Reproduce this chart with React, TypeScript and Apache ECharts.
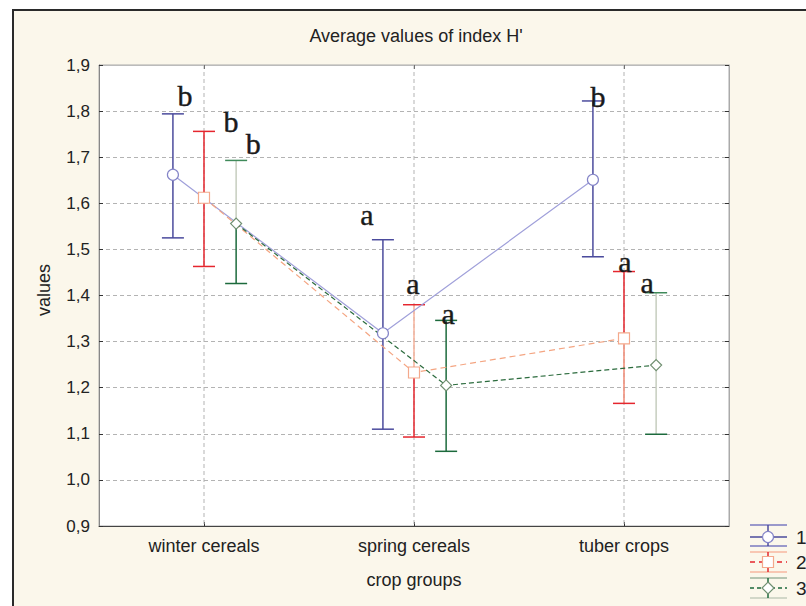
import React, { useEffect, useRef } from "react";
import * as echarts from "echarts";

// ---------- data ----------
const categories = ["winter cereals", "spring cereals", "tuber crops"];
const seriesNames = ["1", "2", "3"];

const means1 = [1.662, 1.318, 1.651];
const low1 = [1.525, 1.11, 1.484];
const high1 = [1.794, 1.521, 1.822];

const means2 = [1.612, 1.233, 1.307];
const low2 = [1.463, 1.093, 1.166];
const high2 = [1.756, 1.38, 1.452];

const means3 = [1.556, 1.205, 1.249];
const low3 = [1.426, 1.062, 1.099];
const high3 = [1.693, 1.346, 1.406];

const letters1 = ["b", "a", "b"];
const letters2 = ["b", "a", "a"];
const letters3 = ["b", "a", "a"];

const yMin = 0.9;
const yMax = 1.9;
const yStep = 0.1;

// ---------- styles / layout ----------
const seriesOffsets = [-0.148, 0, 0.153];

const B = "#4b4b9d";
const R = "#e5262e";
const RL = "#f6b29b";
const RS = "#f08a74";
const G = "#1c6a3c";
const GL = "#c6cdbf";
const GM = "#3f8a5a";

// [upper segment, lower segment, upper cap, lower cap]
const barColors = [
  [[B, B, B, B], [B, B, B, B], [B, B, B, B]],
  [[R, R, R, R], [RL, R, R, R], [R, RS, R, R]],
  [[GL, G, GM, G], [G, G, G, G], [GL, GL, GM, G]],
];

const letterOffsets = [
  [[12, -18], [-16, -25], [5, -4]],
  [[27, -10], [-1, -21], [1, -10]],
  [[17, -17], [2, -7], [-9, -10]],
];

const lineColors = ["#a0a0da", "#f4a582", "#2b6b3d"];
const lineTypes: any[] = ["solid", [6, 4], [5, 3]];
const markerColors = ["#8585c8", "#f4a98c", "#6f8f70"];
const markerShapes = ["circle", "rect", "diamond"];

const FONT = "Liberation Sans, Arial, sans-serif";
const SERIF = "Liberation Serif, Times New Roman, serif";

export default function App() {
  const ref = useRef<HTMLDivElement>(null);

  useEffect(() => {
    document.body.style.margin = "0";
    if (!ref.current) return;
    const chart = echarts.init(ref.current, null, { renderer: "svg" });

    const groups = [
      { means: means1, low: low1, high: high1, letters: letters1 },
      { means: means2, low: low2, high: high2, letters: letters2 },
      { means: means3, low: low3, high: high3, letters: letters3 },
    ];

    const series: any[] = [];

    // vertical grid lines at category centres
    series.push({
      type: "custom",
      xAxisIndex: 1,
      yAxisIndex: 0,
      silent: true,
      z: 1,
      clip: false,
      data: categories.map((_, i) => [i]),
      encode: { x: 0 },
      renderItem: (params: any, api: any) => {
        const x = api.value(0);
        const p1 = api.coord([x, yMax]);
        const p2 = api.coord([x, yMin]);
        return {
          type: "line",
          shape: { x1: p1[0], y1: p1[1], x2: p2[0], y2: p2[1] },
          style: { stroke: "#b3b3b3", lineWidth: 1, lineDash: [4, 3] },
        };
      },
    });

    groups.forEach((g, s) => {
      const off = seriesOffsets[s];
      series.push({
        type: "custom",
        name: seriesNames[s],
        xAxisIndex: 1,
        yAxisIndex: 0,
        z: 3,
        clip: false,
        silent: true,
        data: g.means.map((m, i) => [i + off, g.low[i], g.high[i], m]),
        encode: { x: 0, y: [1, 2] },
        renderItem: (params: any, api: any) => {
          const i = params.dataIndex;
          const x = api.value(0);
          const pHi = api.coord([x, api.value(2)]);
          const pLo = api.coord([x, api.value(1)]);
          const pM = api.coord([x, api.value(3)]);
          const c = barColors[s][i];
          const hw = 11;
          const lo = letterOffsets[s][i];
          return {
            type: "group",
            children: [
              {
                type: "line",
                shape: { x1: pHi[0], y1: pHi[1], x2: pM[0], y2: pM[1] },
                style: { stroke: c[0], lineWidth: 1.5 },
              },
              {
                type: "line",
                shape: { x1: pM[0], y1: pM[1], x2: pLo[0], y2: pLo[1] },
                style: { stroke: c[1], lineWidth: 1.5 },
              },
              {
                type: "line",
                shape: { x1: pHi[0] - hw, y1: pHi[1], x2: pHi[0] + hw, y2: pHi[1] },
                style: { stroke: c[2], lineWidth: 1.5 },
              },
              {
                type: "line",
                shape: { x1: pLo[0] - hw, y1: pLo[1], x2: pLo[0] + hw, y2: pLo[1] },
                style: { stroke: c[3], lineWidth: 1.5 },
              },
              {
                type: "text",
                x: pHi[0] + lo[0],
                y: pHi[1] + lo[1],
                style: {
                  text: g.letters[i],
                  fontSize: 30,
                  fontFamily: SERIF,
                  fill: "#1a1a1a",
                  stroke: "#1a1a1a",
                  lineWidth: 0.4,
                  align: "center",
                  verticalAlign: "middle",
                },
              },
            ],
          };
        },
      });
    });

    groups.forEach((g, s) => {
      const off = seriesOffsets[s];
      series.push({
        type: "line",
        name: seriesNames[s],
        xAxisIndex: 1,
        yAxisIndex: 0,
        z: 5,
        silent: true,
        data: g.means.map((m, i) => [i + off, m]),
        symbol: markerShapes[s],
        symbolSize: 11,
        showAllSymbol: true,
        itemStyle: { color: "#ffffff", borderColor: markerColors[s], borderWidth: 1.2 },
        lineStyle: { color: lineColors[s], width: 1.2, type: lineTypes[s] },
      });
    });

    // legend graphics
    const legendY = [537, 562, 588];
    const legendTop = [-12, -10, -10];
    const legendBottom = [9, 10, 10];
    const legendCapColors = [
      ["#7a7ac0", "#7a7ac0"],
      ["#f7b7a0", "#f7b7a0"],
      ["#9fb59f", "#c4ccbc"],
    ];
    const legendBarColors = [B, R, G];
    const legendMid = [B, R, G];
    const legendMidDash: any[] = [null, [5, 4], [4, 3]];
    const lx1 = 750;
    const lx2 = 787;
    const lcx = 768;
    const legendChildren: any[] = [];
    legendY.forEach((cy, k) => {
      legendChildren.push(
        {
          type: "line",
          shape: { x1: lx1, y1: cy + legendTop[k], x2: lx2, y2: cy + legendTop[k] },
          style: { stroke: legendCapColors[k][0], lineWidth: 1.3 },
        },
        {
          type: "line",
          shape: { x1: lx1, y1: cy + legendBottom[k], x2: lx2, y2: cy + legendBottom[k] },
          style: { stroke: legendCapColors[k][1], lineWidth: 1.3 },
        },
        {
          type: "line",
          shape: { x1: lx1, y1: cy, x2: lx2, y2: cy },
          style: { stroke: legendMid[k], lineWidth: 1.3, lineDash: legendMidDash[k] },
        },
        {
          type: "line",
          shape: { x1: lcx, y1: cy + legendTop[k], x2: lcx, y2: cy + legendBottom[k] },
          style: { stroke: legendBarColors[k], lineWidth: 1.5 },
        }
      );
      if (k === 0) {
        legendChildren.push({
          type: "circle",
          shape: { cx: lcx, cy, r: 5.5 },
          style: { fill: "#fff", stroke: markerColors[0], lineWidth: 1.2 },
        });
      } else if (k === 1) {
        legendChildren.push({
          type: "rect",
          shape: { x: lcx - 5.5, y: cy - 5.5, width: 11, height: 11 },
          style: { fill: "#fff", stroke: markerColors[1], lineWidth: 1.2 },
        });
      } else {
        legendChildren.push({
          type: "polygon",
          shape: { points: [[lcx, cy - 6], [lcx + 6, cy], [lcx, cy + 6], [lcx - 6, cy]] },
          style: { fill: "#fff", stroke: markerColors[2], lineWidth: 1.2 },
        });
      }
      legendChildren.push({
        type: "text",
        x: 796,
        y: cy,
        style: {
          text: seriesNames[k],
          fontSize: 19,
          fontFamily: FONT,
          fill: "#222",
          verticalAlign: "middle",
        },
      });
    });

    const option: any = {
      animation: false,
      grid: {
        left: 99,
        top: 65,
        right: 77,
        bottom: 80,
        show: true,
        backgroundColor: "#ffffff",
        borderColor: "#aaaaaa",
        borderWidth: 1,
        containLabel: false,
        outerBoundsMode: "none",
      },
      xAxis: [
        {
          type: "category",
          data: categories,
          position: "bottom",
          boundaryGap: true,
          axisLine: { show: true, onZero: false, lineStyle: { color: "#444", width: 1 } },
          axisTick: { show: true, inside: true, alignWithLabel: true, length: 4, lineStyle: { color: "#333" } },
          axisLabel: { color: "#222", fontSize: 18, fontFamily: FONT, margin: 11 },
          splitLine: { show: false },
        },
        {
          type: "value",
          min: -0.5,
          max: 2.5,
          show: false,
          axisLine: { onZero: false },
          splitLine: { show: false },
        },
        {
          type: "category",
          data: categories,
          position: "top",
          boundaryGap: true,
          axisLine: { show: true, onZero: false, lineStyle: { color: "#bbb", width: 1 } },
          axisTick: { show: true, inside: true, alignWithLabel: true, length: 4, lineStyle: { color: "#333" } },
          axisLabel: { show: false },
          splitLine: { show: false },
        },
      ],
      yAxis: [
        {
          type: "value",
          min: yMin,
          max: yMax,
          interval: yStep,
          position: "left",
          axisLine: { show: true, onZero: false, lineStyle: { color: "#888", width: 1 } },
          axisTick: { show: true, inside: true, length: 4, lineStyle: { color: "#333" } },
          axisLabel: {
            color: "#222",
            fontSize: 17,
            fontFamily: FONT,
            margin: 9,
            formatter: (v: number) => v.toFixed(1).replace(".", ","),
          },
          splitLine: {
            show: true,
            showMinLine: false,
            showMaxLine: false,
            lineStyle: { color: "#b3b3b3", type: [4, 3], width: 1 },
          },
        },
        {
          type: "value",
          min: yMin,
          max: yMax,
          interval: yStep,
          position: "right",
          axisLine: { show: true, onZero: false, lineStyle: { color: "#aaa", width: 1 } },
          axisTick: { show: true, inside: true, length: 4, lineStyle: { color: "#333" } },
          axisLabel: { show: false },
          splitLine: { show: false },
        },
      ],
      series,
      graphic: [
        {
          type: "text",
          x: 416,
          y: 36,
          style: {
            text: "Average values of index H'",
            fontSize: 18,
            fontFamily: FONT,
            fill: "#222",
            align: "center",
            verticalAlign: "middle",
          },
        },
        {
          type: "text",
          x: 44,
          y: 290,
          rotation: Math.PI / 2,
          style: {
            text: "values",
            fontSize: 18,
            fontFamily: FONT,
            fill: "#222",
            align: "center",
            verticalAlign: "middle",
          },
        },
        {
          type: "text",
          x: 414,
          y: 580,
          style: {
            text: "crop groups",
            fontSize: 18,
            fontFamily: FONT,
            fill: "#222",
            align: "center",
            verticalAlign: "middle",
          },
        },
        { type: "group", children: legendChildren },
      ],
    };

    chart.setOption(option);
    return () => chart.dispose();
  }, []);

  return (
    <div style={{ position: "relative", width: 806, height: 606, overflow: "hidden", background: "#ffffff" }}>
      <div
        style={{
          position: "absolute",
          left: 12,
          top: 9,
          width: 820,
          height: 620,
          background: "#fbf7eb",
          borderLeft: "2px solid #2a2a2a",
          borderTop: "2px solid #2a2a2a",
        }}
      />
      <div ref={ref} style={{ position: "absolute", left: 0, top: 0, width: 806, height: 606 }} />
    </div>
  );
}
